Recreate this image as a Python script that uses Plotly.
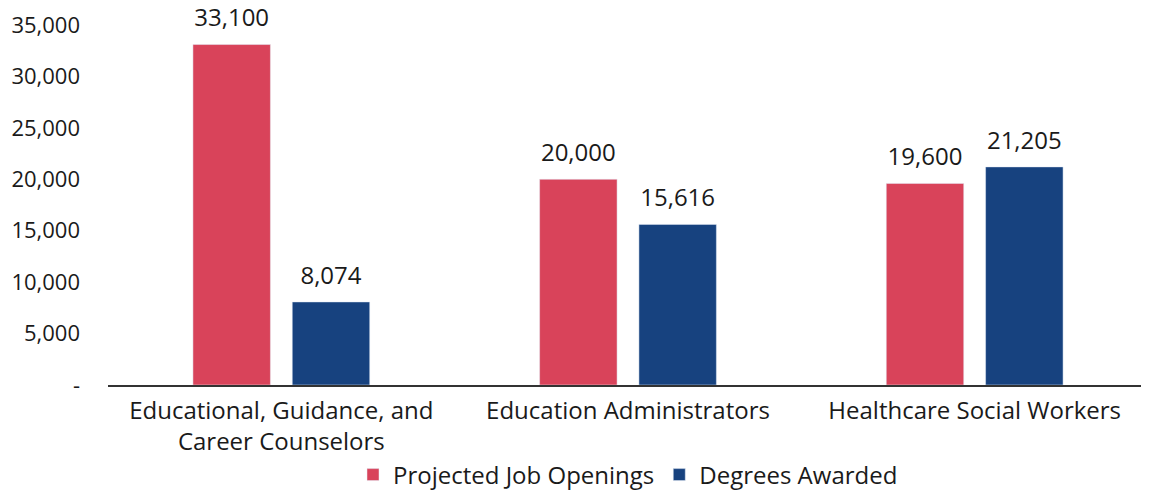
import plotly.graph_objects as go

categories = ["Educational, Guidance, and<br>Career Counselors", "Education Administrators", "Healthcare Social Workers"]
projected = [33100, 20000, 19600]
degrees = [8074, 15616, 21205]
tick_vals = [0, 5000, 10000, 15000, 20000, 25000, 30000, 35000]
tick_text = ["-", "5,000", "10,000", "15,000", "20,000", "25,000", "30,000", "35,000"]

FONT = "Open Sans"
FS = 24
RED = "#D9435A"
BLUE = "#17427F"
GAP = 0.427
Y_MAX = 35000

fig = go.Figure()
for name, vals, col, grp in [("Projected Job Openings", projected, RED, "a"),
                             ("Degrees Awarded", degrees, BLUE, "b")]:
    fig.add_trace(go.Bar(
        x=categories, y=vals, name=name, offsetgroup=grp,
        marker=dict(color=col), hoverinfo="x+y",
    ))
for vals, grp in [(projected, "a"), (degrees, "b")]:
    fig.add_trace(go.Scatter(
        x=categories, y=vals, mode="markers+text", offsetgroup=grp,
        text=[f"{v:,}" for v in vals], textposition="top center",
        textfont=dict(size=FS, color="#1a1a1a", family=FONT),
        marker=dict(size=18, color="rgba(0,0,0,0)", line=dict(width=0)),
        showlegend=False, hoverinfo="skip", cliponaxis=False,
    ))
fig.update_layout(
    width=1141, height=492,
    margin=dict(l=100, r=1, t=17, b=115, autoexpand=False),
    paper_bgcolor="white", plot_bgcolor="white",
    barmode="group", bargap=GAP, bargroupgap=0.22,
    scattermode="group", scattergap=GAP,
    font=dict(family=FONT, size=FS, color="#1a1a1a"),
    showlegend=True,
    legend=dict(orientation="h", x=0.5, xanchor="center", y=-0.25, yanchor="middle",
                font=dict(size=FS), itemwidth=30, tracegroupgap=0),
    xaxis=dict(showline=True, linecolor="#333333", linewidth=2, ticks="",
               tickfont=dict(size=FS), showgrid=False, automargin=False,
               ticklabelstandoff=3),
    yaxis=dict(range=[0, Y_MAX], tickvals=tick_vals, ticktext=tick_text,
               showgrid=False, zeroline=False, showline=False, ticks="",
               tickfont=dict(size=22), ticklabelstandoff=27, automargin=False,
               ticklabeloverflow="allow"),
)
fig.write_html("out.html")
